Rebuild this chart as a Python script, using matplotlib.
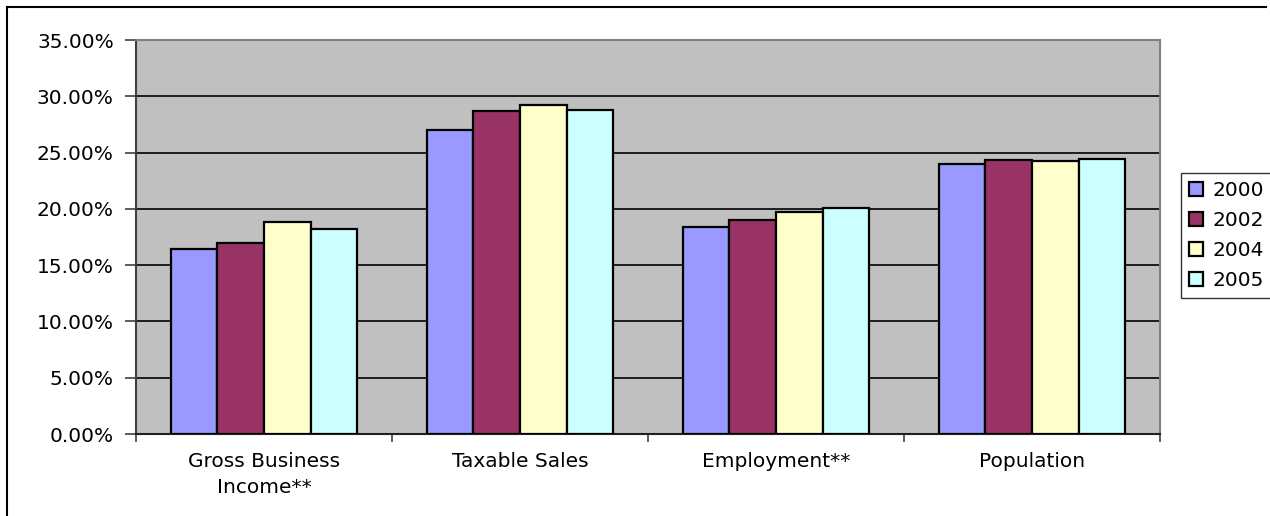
import numpy as np
import matplotlib.pyplot as plt
from matplotlib.lines import Line2D
from matplotlib.ticker import FuncFormatter

categories = ["Gross Business\nIncome**", "Taxable Sales", "Employment**", "Population"]
years = ["2000", "2002", "2004", "2005"]
v2000 = [16.4, 27.0, 18.4, 24.0]
v2002 = [17.0, 28.7, 19.05, 24.3]
v2004 = [18.8, 29.25, 19.75, 24.25]
v2005 = [18.2, 28.8, 20.05, 24.4]
colors = ["#9999FF", "#993366", "#FFFFCC", "#CCFFFF"]

plt.rcParams["font.family"] = ["DejaVu Sans"]
plt.rcParams["font.size"] = 14.5

fig = plt.figure(figsize=(12.7, 5.16), dpi=100)
ax = fig.add_axes([136 / 1270, 1 - 434 / 516, 1024 / 1270, 394 / 516])
ax.set_facecolor("#C0C0C0")

x = np.arange(len(categories))
width = 0.182
series = [v2000, v2002, v2004, v2005]
for i, (vals, col, yr) in enumerate(zip(series, colors, years)):
    ax.bar(x + (i - 1.5) * width, vals, width, color=col, edgecolor="black",
           linewidth=1.6, label=yr, zorder=3)

ax.set_xlim(-0.5, len(categories) - 0.5)
ax.set_ylim(0, 35)
ax.set_yticks(np.arange(0, 36, 5))
ax.yaxis.set_major_formatter(FuncFormatter(lambda v, p: f"{v:.2f}%"))
ax.grid(axis="y", color="black", linewidth=1.2, zorder=1)

ax.set_xticks(x)
ax.set_xticklabels(categories, linespacing=1.45)
ax.tick_params(axis="x", length=0, pad=13)
ax.set_xticks(np.arange(-0.5, len(categories)), minor=True)
ax.tick_params(axis="x", which="minor", length=6, width=1.2, color="#404040", direction="out")
ax.tick_params(axis="y", length=8, width=1.2, color="#404040", pad=8)

for side in ["top", "right"]:
    ax.spines[side].set_color("#808080")
    ax.spines[side].set_linewidth(1.5)
ax.spines["left"].set_color("#404040")
ax.spines["left"].set_linewidth(1.5)
ax.spines["bottom"].set_color("#202020")
ax.spines["bottom"].set_linewidth(1.5)

leg = fig.legend(loc="upper left", bbox_to_anchor=(1181 / 1270, 1 - 173 / 516),
                 borderaxespad=0, frameon=True, fancybox=False, edgecolor="black",
                 handlelength=0.7, handleheight=0.7, handletextpad=0.45,
                 labelspacing=0.55, borderpad=0.4, fontsize=14.5)
leg.get_frame().set_linewidth(1.0)

# outer chart border (top and left edges visible)
fig.add_artist(Line2D([7 / 1270, 1266 / 1270], [1 - 7 / 516, 1 - 7 / 516],
                      color="black", linewidth=1.5, transform=fig.transFigure))
fig.add_artist(Line2D([7 / 1270, 7 / 1270], [1 - 7 / 516, 0],
                      color="black", linewidth=1.5, transform=fig.transFigure))

fig.savefig("out.png", dpi=100)
